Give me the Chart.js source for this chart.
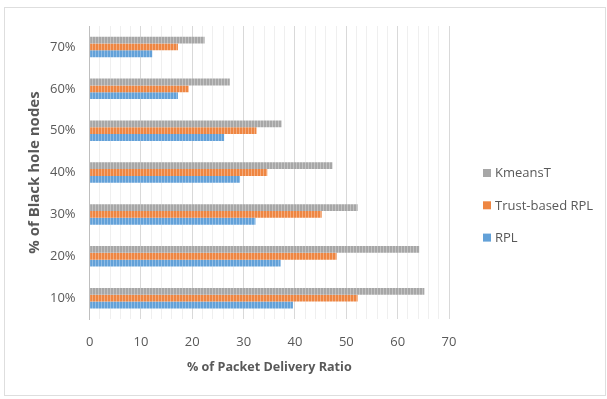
<!DOCTYPE html>
<html>
<head>
<meta charset="utf-8">
<title>Packet Delivery Ratio</title>
<script src="https://cdn.jsdelivr.net/npm/chart.js@4.4.1/dist/chart.umd.min.js"></script>
<style>
    html, body { margin: 0; padding: 0; background: #fff; }
    .wrap { position: relative; width: 607px; height: 399px; }
    .frame {
        position: absolute; left: 4px; top: 7px; width: 600px; height: 387px;
        border: 1px solid #dedede; pointer-events: none;
    }
    canvas { position: absolute; left: 0; top: 0; }
</style>
</head>
<body>
<div class="wrap">
    <canvas id="pdrChart" width="607" height="399"></canvas>
    <div class="frame"></div>
</div>
<script>
// Chart data (categories listed top to bottom)
const categories = ['70%', '60%', '50%', '40%', '30%', '20%', '10%'];
const kmeansT = [22.4, 27.3, 37.4, 47.3, 52.2, 64.2, 65.2];
const trustRpl = [17.2, 19.3, 32.5, 34.6, 45.2, 48.1, 52.2];
const rpl = [12.2, 17.2, 26.2, 29.3, 32.3, 37.2, 39.6];
const xTicks = [0, 10, 20, 30, 40, 50, 60, 70];

const textColor = '#595959';
const font = "'Open Sans', sans-serif";

document.addEventListener('DOMContentLoaded', function() {
    const ctx = document.getElementById('pdrChart').getContext('2d');

    // striped fill like the excel bars
    function stripes(base, light) {
        const c = document.createElement('canvas');
        c.width = 3;
        c.height = 3;
        const p = c.getContext('2d');
        p.fillStyle = base;
        p.fillRect(0, 0, 3, 3);
        p.fillStyle = light;
        p.fillRect(2, 0, 1, 3);
        return ctx.createPattern(c, 'repeat');
    }

    const series = [
        { label: 'KmeansT', data: kmeansT, color: '#a7a7a7', light: '#c2c2c2' },
        { label: 'Trust-based RPL', data: trustRpl, color: '#ee8642', light: '#f5ac7e' },
        { label: 'RPL', data: rpl, color: '#63a1d8', light: '#90bde6' }
    ];

    // legend drawn on the right, like the original
    const sideLegend = {
        id: 'sideLegend',
        afterDraw(chart) {
            const c = chart.ctx;
            c.save();
            c.font = '13px ' + font;
            c.textBaseline = 'middle';
            series.forEach((s, i) => {
                const y = 173 + i * 32.3;
                c.fillStyle = s.color;
                c.fillRect(483, y - 4, 8, 8);
                c.fillStyle = textColor;
                c.fillText(s.label, 495, y + 0.5);
            });
            c.restore();
        }
    };

    new Chart(ctx, {
        type: 'bar',
        data: {
            labels: categories,
            datasets: series.map(s => ({
                label: s.label,
                data: s.data,
                backgroundColor: stripes(s.color, s.light),
                borderWidth: 0,
                categoryPercentage: 0.49,
                barPercentage: 1.0
            }))
        },
        options: {
            indexAxis: 'y',
            responsive: false,
            animation: false,
            layout: {
                padding: { left: 20, right: 158, top: 26, bottom: 20.4 }
            },
            plugins: {
                legend: { display: false },
                tooltip: { enabled: false }
            },
            scales: {
                x: {
                    min: xTicks[0],
                    max: xTicks[xTicks.length - 1],
                    grid: {
                        drawTicks: false,
                        color: c => (c.tick && c.tick.value % 10 === 0) ? '#d9d9d9' : '#efefef',
                        lineWidth: 1
                    },
                    border: { display: false },
                    ticks: {
                        stepSize: 2,
                        autoSkip: false,
                        maxRotation: 0,
                        padding: 15,
                        color: textColor,
                        font: { family: font, size: 13 },
                        callback: v => xTicks.includes(v) ? v : ''
                    },
                    title: {
                        display: true,
                        text: '% of Packet Delivery Ratio',
                        color: textColor,
                        font: { family: font, size: 12.6, weight: 'bold' },
                        padding: { top: -5.2, bottom: 4 }
                    }
                },
                y: {
                    grid: { display: false, drawTicks: false },
                    border: { display: true, color: '#bfbfbf', width: 1 },
                    ticks: {
                        padding: 14,
                        color: textColor,
                        font: { family: font, size: 13 }
                    },
                    title: {
                        display: true,
                        text: '% of Black hole nodes',
                        color: textColor,
                        font: { family: font, size: 15, weight: 'bold' },
                        padding: { top: 6, bottom: -8 }
                    }
                }
            }
        },
        plugins: [sideLegend]
    });
});
</script>
</body>
</html>
